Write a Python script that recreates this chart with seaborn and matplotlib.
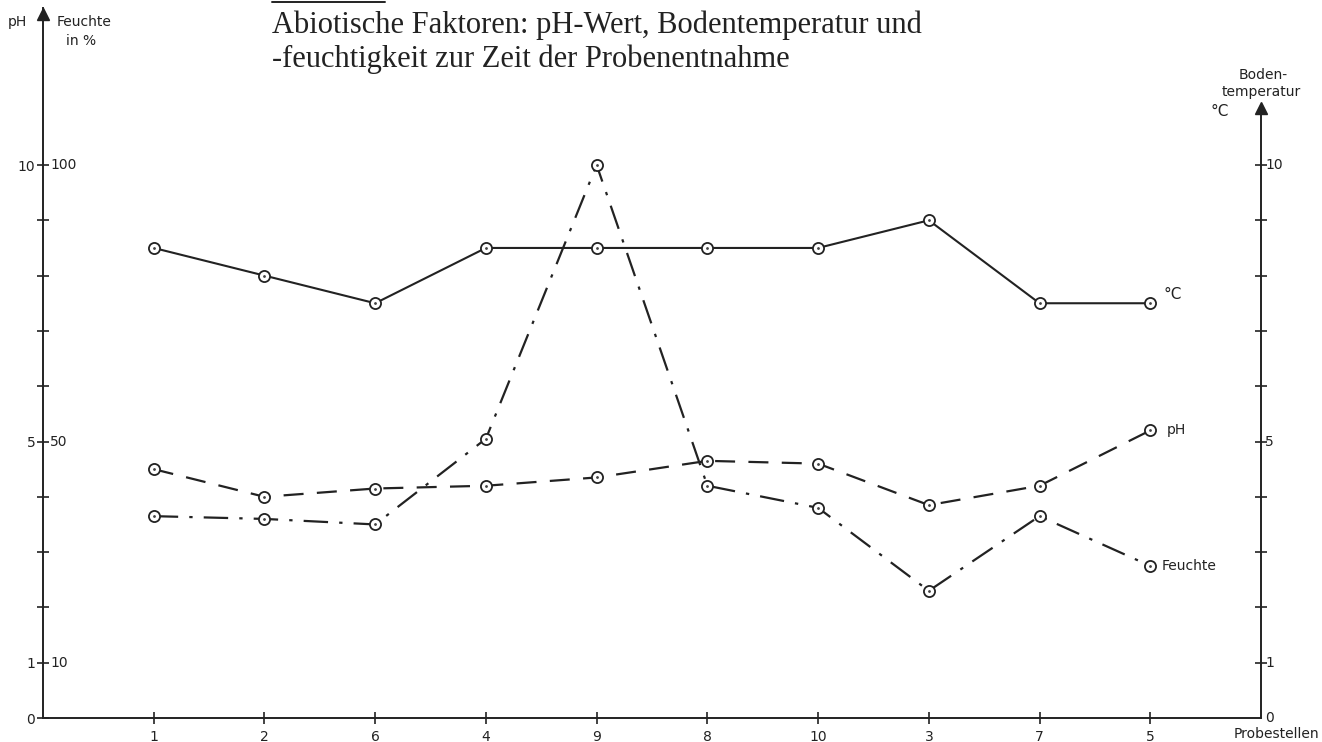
import numpy as np
import pandas as pd
import seaborn as sns
import matplotlib.pyplot as plt
from matplotlib.transforms import blended_transform_factory

# Probestellen in plot order
stellen = ['1', '2', '6', '4', '9', '8', '10', '3', '7', '5']
temperatur = [8.5, 8.0, 7.5, 8.5, 8.5, 8.5, 8.5, 9.0, 7.5, 7.5]      # °C
ph_wert = [4.5, 4.0, 4.15, 4.2, 4.35, 4.65, 4.6, 3.85, 4.2, 5.2]
feuchte = [36.5, 36, 35, 50.5, 100, 42, 38, 23, 36.5, 27.5]          # %

df = pd.DataFrame({'pos': np.arange(1, len(stellen) + 1),
                   'temp': temperatur,
                   'ph': ph_wert,
                   'feuchte_scaled': np.array(feuchte) / 10})

sns.set_style('white')
plt.rcParams['font.family'] = ['DejaVu Sans']

fig = plt.figure(figsize=(13.22, 7.42), dpi=100)
ax = fig.add_axes([43 / 1322, 24 / 742, 1218 / 1322, 710 / 742])

mk = dict(marker='o', markersize=8, markerfacecolor='white',
          markeredgecolor='#222222', markeredgewidth=1.3, color='#222222')

sns.lineplot(data=df, x='pos', y='temp', ax=ax, lw=1.5, **mk)
sns.lineplot(data=df, x='pos', y='ph', ax=ax, lw=1.6, dashes=(9, 6), **mk)
sns.lineplot(data=df, x='pos', y='feuchte_scaled', ax=ax, lw=1.6,
             dashes=(11, 5, 1.5, 5), **mk)
# small dot in the centre of each circle
for col in ['temp', 'ph', 'feuchte_scaled']:
    ax.plot(df['pos'], df[col], ls='none', marker='.', markersize=2, color='#444444')

ax.set_xlim(0, 11)
ax.set_ylim(0, 710 / 55.3)
ax.set_xlabel('')
ax.set_ylabel('')

for s in ['top', 'right']:
    ax.spines[s].set_visible(False)
for s in ['left', 'bottom']:
    ax.spines[s].set_color('#222222')
    ax.spines[s].set_linewidth(1.4)

ax.set_xticks(df['pos'])
ax.set_xticklabels(stellen)
ax.set_yticks(range(0, 11))
ax.set_yticklabels(['0', '1', '', '', '', '5', '', '', '', '', '10'])
ax.tick_params(axis='both', direction='inout', length=9, width=1.2,
               color='#222222', labelsize=10, labelcolor='#222222', pad=1,
               left=True, bottom=True)
ax.tick_params(axis='x', pad=4)

# arrow on left axis
ax.plot([0], [ax.get_ylim()[1] - 0.1], marker='^', markersize=9,
        color='#222222', clip_on=False)

# Feuchte labels right of left axis
tr_left = blended_transform_factory(ax.transAxes, ax.transData)
for v, lab in [(1, '10'), (5, '50'), (10, '100')]:
    ax.text(0.006, v, lab, transform=tr_left, va='center', ha='left',
            fontsize=10, color='#222222')

# right axis (Bodentemperatur)
top_r = (718 - 108) / 55.3
ax.plot([11, 11], [0, top_r], color='#222222', lw=1.4, clip_on=False)
ax.plot([11], [top_r], marker='^', markersize=9, color='#222222', clip_on=False)
for v in range(1, 11):
    ax.plot([11], [v], marker='_', markersize=9, mew=1.2,
            color='#222222', clip_on=False)
for v, lab in [(0, '0'), (1, '1'), (5, '5'), (10, '10')]:
    ax.text(11.04, v, lab, va='center', ha='left', fontsize=10,
            color='#222222', clip_on=False)

# axis titles
fig.text(8 / 1322, 1 - 22 / 742, 'pH', fontsize=10, va='center', color='#222222')
fig.text(57 / 1322, 1 - 22 / 742, 'Feuchte', fontsize=10, va='center', color='#222222')
fig.text(66 / 1322, 1 - 41 / 742, 'in %', fontsize=10, va='center', color='#222222')
fig.text(1263 / 1322, 1 - 75 / 742, 'Boden-', fontsize=10,
         va='center', ha='center', color='#222222')
fig.text(1261 / 1322, 1 - 92 / 742, 'temperatur', fontsize=10,
         va='center', ha='center', color='#222222')
fig.text(1211 / 1322, 1 - 112 / 742, '°C', fontsize=11, va='center', color='#222222')
fig.text(1322 / 1322 - 0.002, 1 - 734 / 742, 'Probestellen', fontsize=10,
         va='center', ha='right', color='#222222')

# series labels at line ends
ax.text(10.12, temperatur[-1] + 0.15, '°C', fontsize=11, va='center', color='#222222')
ax.text(10.15, ph_wert[-1], 'pH', fontsize=10, va='center', color='#222222')
ax.text(10.1, feuchte[-1] / 10, 'Feuchte', fontsize=10, va='center', color='#222222')

# title
fig.text(272 / 1322, 1 - 10 / 742,
         'Abiotische Faktoren: pH-Wert, Bodentemperatur und\n'
         '-feuchtigkeit zur Zeit der Probenentnahme',
         fontsize=22, family='Liberation Serif', va='top', ha='left',
         color='#222222', linespacing=1.2)
fig.add_artist(plt.Line2D([272 / 1322, 385 / 1322], [1 - 2 / 742, 1 - 2 / 742],
                          color='#222222', lw=1.4))

fig.savefig('out.png', dpi=100)
